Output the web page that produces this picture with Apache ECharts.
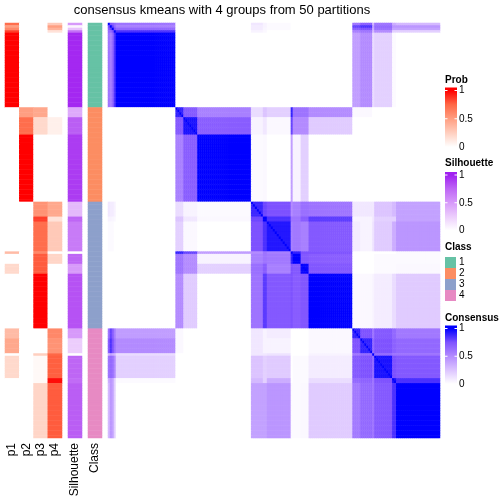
<!DOCTYPE html>
<html><head><meta charset="utf-8">
<script src="https://cdn.jsdelivr.net/npm/echarts@6/dist/echarts.min.js"></script>
<style>html,body{margin:0;padding:0;background:#fff}#c{width:504px;height:504px}</style>
</head><body><div id="c"></div>
<script>
// ---- data: sample segments in display order ----
const segNames = ['S1','S2','S3','S4','S5','B1','B2','B3','C1','C2','C3','C4','C5','C6','C7','D1a','D1b','D2','D3','D3b','D4'];
const segCount = [1,1,1,1,30, 4,7,27, 6,2,12,1,4,4,22, 4,6,1,9,2,22];
const segClass = [1,1,1,1,1, 2,2,2, 3,3,3,3,3,3,3, 4,4,4,4,4,4];
const segP1 = [.72,.5,.6,.85,1, 0,0,0, 0,0,0,.35,0,.2,0, .35,.45,0,.2,0,0];
const segP2 = [0,0,0,0,0, .5,.72,1, 0,0,0,0,0,0,0, 0,0,0,0,0,0];
const segP3 = [0,0,0,0,0, .45,.2,0, .55,.85,.72,.6,.78,.78,1, 0,0,.25,.03,.03,.22];
const segP4 = [.28,.5,.4,.15,0, 0,.08,0, .45,.15,.28,0,.22,0,0, .6,.55,.75,.77,.97,.78];
const segSil = [.5,.05,.3,.7,.97, .42,.78,.9, .35,.75,.65,0,.75,.5,.82, .5,.25,0,.75,.72,.78];
// upper triangle of segment-by-segment consensus (row i, columns i..end)
const consUpper = [
 [1,.75,.7,.65,.6, 0,0,0, .1,.05,.02,0,0,0,0, .6,.7,.3,.6,.35,.3],
 [1,.8,.65,.55, 0,0,0, .08,.05,.02,0,0,0,0, .8,.85,.4,.65,.45,.45],
 [1,.75,.65, 0,0,0, .08,.04,.02,0,0,0,0, .7,.75,.35,.62,.4,.4],
 [1,.85, 0,0,0, .05,.03,0,0,0,0,0, .55,.6,.3,.5,.2,.2],
 [1, 0,0,0, 0,0,0,0,0,0,0, .42,.5,.15,.2,.02,0],
 [.9,.72,.55, .15,.25,.2,.9,.6,.6,.5, .03,.03,0,0,0,0],
 [.95,.7, .05,.1,.03,.8,.5,.5,.22, 0,0,0,0,0,0],
 [1, .02,.03,0,.42,.05,.2,0, 0,0,0,0,0,0],
 [.88,.78,.75,.5,.55,.62,.6, .1,.1,.1,.25,.3,.4],
 [1,.85,.6,.6,.7,.82, .05,.05,.1,.2,.2,.4],
 [.93,.55,.58,.55,.72, .08,.05,.12,.22,.35,.45],
 [1,.9,.75,.75, 0,0,0,0,0,.02],
 [1,.72,.7, 0,0,0,.02,.02,.02],
 [.98,.73, 0,0,0,.02,.02,.03],
 [1, .03,.03,.05,.08,.15,.22],
 [.9,.75,.6,.72,.65,.58],
 [.9,.65,.75,.68,.65],
 [1,.65,.6,.6],
 [.95,.75,.72],
 [.95,.85],
 [1]
];
const pLabels = ['p1','p2','p3','p4'];
const classLabels = ['1','2','3','4'];
const classColors = ['#66c2a5','#fc8d62','#8da0cb','#e78ac3'];
const probColors = ['#ffffff','#ffcfbf','#ff9e81','#ff6846','#ff0000'];
const silColors = ['#ffffff','#eccdfc','#d79afa','#be66f5','#a020f0'];
const consColors = ['#ffffff','#dcc4ff','#b38bff','#7e52ff','#0000ff'];
const legendTicks = [1, 0.5, 0];
const titleText = 'consensus kmeans with 4 groups from 50 partitions';

// ---- build ----
const samples = [];
segCount.forEach((n, s) => { for (let k = 0; k < n; k++) samples.push(s); });
const N = samples.length;
const idx = samples.map((_, i) => i);
function segCons(a, b) { if (a > b) { const t = a; a = b; b = t; } return consUpper[a][b - a]; }
const probData = [], silData = [], classData = [], consData = [];
samples.forEach((s, i) => {
  [segP1, segP2, segP3, segP4].forEach((arr, k) => probData.push([k, i, arr[s]]));
  silData.push([0, i, segSil[s]]);
  classData.push([0, i, segClass[s]]);
  for (let j = 0; j < N; j++) consData.push([j, i, i === j ? 1 : segCons(s, samples[j])]);
});

const FONT = 'Liberation Sans, Arial, sans-serif';
const TOP = 23, H = 415;
const grids = [
  {left: 5, top: TOP, width: 57, height: H},
  {left: 68, top: TOP, width: 14, height: H},
  {left: 88, top: TOP, width: 14, height: H},
  {left: 108, top: TOP, width: 332, height: H}
];
const lab = {rotate: 90, fontSize: 12, margin: 5, color: '#000', fontFamily: FONT, interval: 0, hideOverlap: false};
const xAxes = [
  {gridIndex: 0, type: 'category', data: pLabels, axisLine: {show: false}, axisTick: {show: false}, axisLabel: lab},
  {gridIndex: 1, type: 'category', data: ['Silhouette'], axisLine: {show: false}, axisTick: {show: false}, axisLabel: lab},
  {gridIndex: 2, type: 'category', data: ['Class'], axisLine: {show: false}, axisTick: {show: false}, axisLabel: lab},
  {gridIndex: 3, type: 'category', data: idx, show: false}
];
const yAxes = grids.map((g, k) => ({gridIndex: k, type: 'category', data: idx, inverse: true, show: false}));
function hm(k, data) {
  return {type: 'heatmap', xAxisIndex: k, yAxisIndex: k, data: data, progressive: 0, animation: false,
    emphasis: {disabled: true}, itemStyle: {borderWidth: 0}};
}

// ---- legends (graphic) ----
const graphics = [];
graphics.push({type: 'text', style: {x: 222, y: 10, text: titleText, font: '13px ' + FONT, fill: '#000', textAlign: 'center', textVerticalAlign: 'middle'}});
function gradLegend(title, titleY, y1, y0, colors) {
  const x = 445, w = 12, top = y1 - 3, bot = y0 + 2;
  graphics.push({type: 'text', style: {x: x, y: titleY, text: title, font: 'bold 10px ' + FONT, fill: '#000', textVerticalAlign: 'middle'}});
  const stops = [];
  const n = colors.length;
  stops.push({offset: 0, color: colors[n - 1]});
  colors.slice().reverse().forEach((c, i) => {
    const v = 1 - i / (n - 1);
    const yy = y1 + (1 - v) * (y0 - y1);
    stops.push({offset: (yy - top) / (bot - top), color: c});
  });
  stops.push({offset: 1, color: colors[0]});
  graphics.push({type: 'rect', shape: {x: x, y: top, width: w, height: bot - top},
    style: {fill: new echarts.graphic.LinearGradient(0, 0, 0, 1, stops)}});
  legendTicks.forEach(v => {
    const yy = y1 + (1 - v) * (y0 - y1);
    graphics.push({type: 'line', shape: {x1: x, y1: yy, x2: x + 2.5, y2: yy}, style: {stroke: '#fff', lineWidth: 1}});
    graphics.push({type: 'line', shape: {x1: x + w - 2.5, y1: yy, x2: x + w, y2: yy}, style: {stroke: '#fff', lineWidth: 1}});
    graphics.push({type: 'text', style: {x: x + w + 2, y: yy, text: String(v), font: '10px ' + FONT, fill: '#000', textVerticalAlign: 'middle'}});
  });
}
gradLegend('Prob', 80, 90.5, 147, probColors);
gradLegend('Silhouette', 163, 175, 230.5, silColors);
graphics.push({type: 'text', style: {x: 445, y: 247, text: 'Class', font: 'bold 10px ' + FONT, fill: '#000', textVerticalAlign: 'middle'}});
classLabels.forEach((c, i) => {
  const y = 257 + i * 11;
  graphics.push({type: 'rect', shape: {x: 445, y: y, width: 11, height: 11}, style: {fill: classColors[i]}});
  graphics.push({type: 'text', style: {x: 459, y: y + 5.7, text: c, font: '10px ' + FONT, fill: '#000', textVerticalAlign: 'middle'}});
});
gradLegend('Consensus', 318, 328.5, 384, consColors);

const chart = echarts.init(document.getElementById('c'), null, {renderer: 'canvas'});
chart.setOption({
  animation: false,
  backgroundColor: '#fff',
  grid: grids,
  xAxis: xAxes,
  yAxis: yAxes,
  visualMap: [
    {type: 'continuous', show: false, seriesIndex: 0, dimension: 2, min: 0, max: 1, inRange: {color: probColors}},
    {type: 'continuous', show: false, seriesIndex: 1, dimension: 2, min: 0, max: 1, inRange: {color: silColors}},
    {type: 'piecewise', show: false, seriesIndex: 2, dimension: 2,
      pieces: classColors.map((c, i) => ({value: i + 1, color: c}))},
    {type: 'continuous', show: false, seriesIndex: 3, dimension: 2, min: 0, max: 1, inRange: {color: consColors}}
  ],
  series: [hm(0, probData), hm(1, silData), hm(2, classData), hm(3, consData)],
  graphic: graphics
});
</script></body></html>
